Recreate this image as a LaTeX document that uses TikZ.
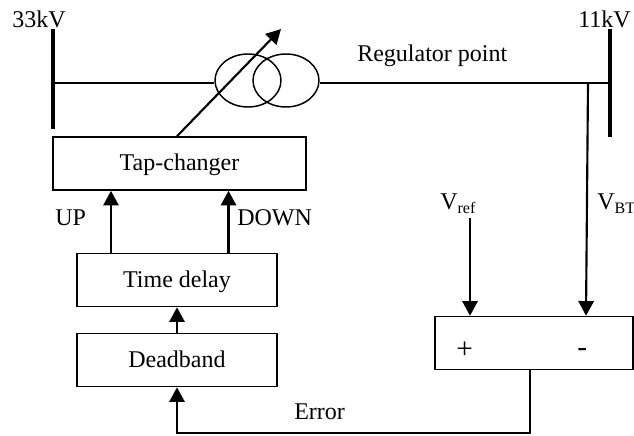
\documentclass[tikz,border=0pt]{standalone}
\usepackage{fontspec}
\setmainfont{Liberation Serif}
\usetikzlibrary{
    arrows.meta,
    shapes.geometric,
}
\tikzstyle{block} = [rectangle, draw, line width=1.2pt, text height=13pt, text depth=2.5pt,
    text centered, inner sep=0pt, minimum height=39.75pt]
\tikzstyle{winding} = [ellipse, draw, line width=1.1pt, inner sep=0pt,
    minimum width=49.5pt, minimum height=39.75pt]
\tikzstyle{label} = [inner sep=0pt, anchor=base west]
\tikzstyle{line} = [draw, line width=1.2pt]
\tikzstyle{bus} = [draw, line width=3.2pt]
\tikzstyle{signal} = [draw, ->, line width=1.6pt]
\newcommand{\subtext}[1]{\raisebox{-3.5pt}{\fontsize{12}{12}\selectfont #1}}

\begin{document}
\begin{tikzpicture}[x=0.75pt, y=-0.75pt, font=\fontsize{18}{20}\selectfont,
        >={Triangle[length=11pt,width=11.5pt]}]
        \useasboundingbox (0,0) rectangle (634,435);
        % Place nodes
        \node [block, minimum width=189.75pt] (tapChanger) at (179.5,163.5) {Tap-changer};
        \node [block, minimum width=150pt] (timeDelay) at (177,280) {Time delay};
        \node [block, minimum width=150pt] (deadband) at (177,360) {Deadband};
        \node [block, minimum width=148.5pt] (summer) at (534,343) {};
        \node [winding] (primary) at (248,80.5) {};
        \node [winding] (secondary) at (286,80.5) {};
        \node [label] (hvText) at (12,28) {33kV};
        \node [label] (lvText) at (578,28) {11kV};
        \node [label] (regText) at (357,61) {Regulator point};
        \node [label] (upText) at (55,225) {UP};
        \node [label] (downText) at (237,225) {DOWN};
        \node [label] (vrefText) at (440,209) {V\subtext{ref}};
        \node [label] (vbtText) at (597,209) {V\subtext{BT}};
        \node [label] (errorText) at (294,419) {Error};
        \node [label, font=\fontsize{22}{22}\selectfont] (plusText) at (456,358) {+};
        \node [label, font=\fontsize{22}{22}\selectfont] (minusText) at (577,356) {-};
        % Free ends
        \coordinate (hvTop) at (53,29);
        \coordinate (hvBottom) at (53,129);
        \coordinate (lvTop) at (610,29);
        \coordinate (lvBottom) at (610,137);
        \coordinate (hvTee) at (51,83);
        \coordinate (lvTee) at (608,83);
        \coordinate (regPoint) at (588,83);
        \coordinate (tapHead) at (281,29);
        \coordinate (tapFoot) at (177,0);
        \coordinate (upLine) at (111,0);
        \coordinate (downLine) at (228.5,0);
        \coordinate (vrefStart) at (470,218);
        \coordinate (vbtEnd) at (586,0);
        \coordinate (errorOut) at (530,0);
        \coordinate (errorTurn) at (530,433);
        % Draw edges
        \path [bus] (hvTop) -- (hvBottom);
        \path [bus] (lvTop) -- (lvBottom);
        \path [line] (hvTee) -- (hvTee -| primary.west);
        \path [line] (hvTee -| secondary.east) -- (lvTee);
        \path [signal] (tapFoot |- tapChanger.north) -- (tapHead);
        \path [signal] (upLine |- timeDelay.north) -- (upLine |- tapChanger.south);
        \path [signal] (downLine |- timeDelay.north) -- (downLine |- tapChanger.south);
        \path [signal] (deadband.north) -- (timeDelay.south);
        \path [signal] (vrefStart) -- (vrefStart |- summer.north);
        \path [signal] (regPoint) -- (vbtEnd |- summer.north);
        \path [signal] (errorOut |- summer.south) -- (errorTurn) -| (deadband.south);
    \end{tikzpicture}
\end{document}
